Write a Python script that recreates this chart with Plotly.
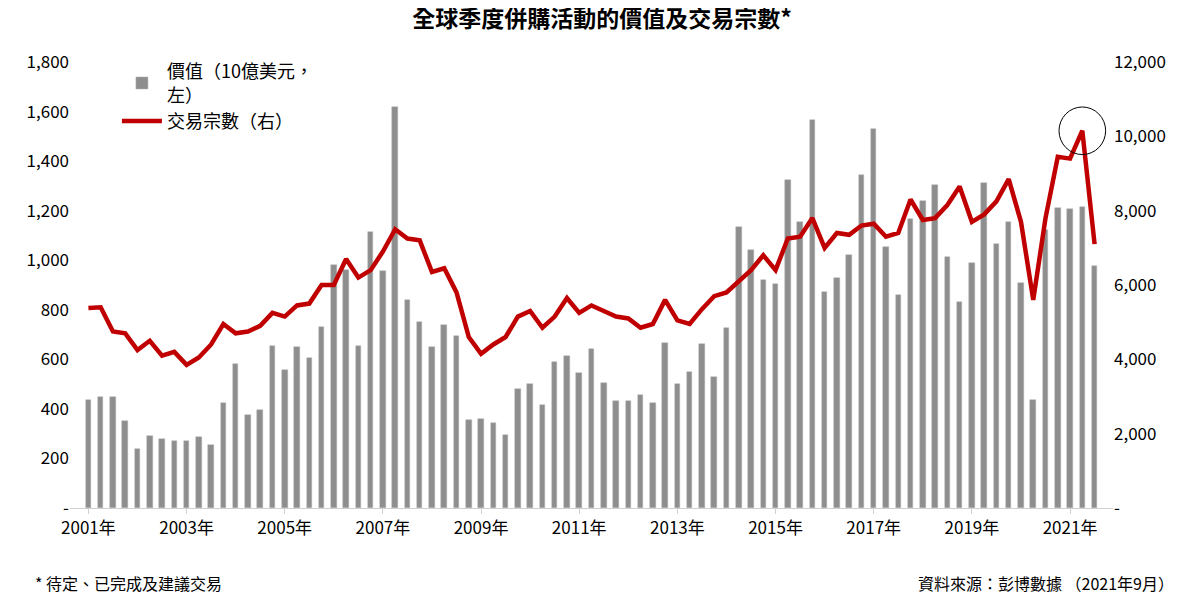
import plotly.graph_objects as go

years = list(range(2001, 2022))
quarters = [f"{y}Q{q}" for y in years for q in range(1, 5)][:83]

deal_value = [435, 450, 450, 350, 240, 290, 280, 270, 270, 285, 255, 425,
              580, 375, 395, 655, 555, 650, 605, 730, 980, 960, 655, 1115,
              955, 1620, 840, 750, 650, 740, 695, 355, 360, 345, 295, 480,
              500, 415, 590, 615, 545, 640, 505, 430, 430, 455, 425, 665,
              500, 550, 660, 530, 725, 1135, 1040, 920, 905, 1325, 1155, 1565,
              870, 930, 1020, 1345, 1530, 1055, 860, 1165, 1240, 1305, 1015, 830,
              990, 1310, 1065, 1155, 910, 435, 1120, 1210, 1205, 1215, 975]
deal_count = [5380, 5400, 4750, 4700, 4250, 4500, 4100, 4200, 3850, 4050, 4400, 4950,
              4700, 4750, 4900, 5250, 5150, 5450, 5500, 6000, 6000, 6700, 6200, 6400,
              6900, 7500, 7250, 7200, 6350, 6450, 5800, 4600, 4150, 4400, 4600, 5150,
              5300, 4850, 5150, 5650, 5250, 5450, 5300, 5150, 5100, 4850, 4950, 5600,
              5050, 4950, 5350, 5700, 5800, 6100, 6400, 6800, 6400, 7250, 7300, 7800,
              7000, 7400, 7350, 7600, 7650, 7300, 7400, 8300, 7750, 7800, 8150, 8650,
              7700, 7900, 8250, 8850, 7700, 5600, 7800, 9450, 9400, 10150, 7100]
left_ticks = [0, 200, 400, 600, 800, 1000, 1200, 1400, 1600, 1800]
right_ticks = [0, 2000, 4000, 6000, 8000, 10000, 12000]
x_tick_labels = [f"{y}年" for y in range(2001, 2022, 2)]

xs = list(range(len(quarters)))
font = "Noto Sans CJK TC, Arial, sans-serif"

fig = go.Figure()
fig.add_trace(go.Bar(x=xs, y=deal_value, width=0.45, name="價值（10億美元，<br>左）",
                     marker=dict(color="#8e8e8e", line=dict(color="#b0b0b0", width=0.5))))
fig.add_trace(go.Scatter(x=xs, y=deal_count, yaxis="y2", mode="lines", name="交易宗數（右）",
                         line=dict(color="#c00000", width=4.5)))

pk = deal_count.index(max(deal_count))
fig.add_shape(type="circle", xref="x", yref="y2", x0=pk - 1.9, x1=pk + 1.9,
              y0=deal_count[pk] - 640, y1=deal_count[pk] + 640,
              line=dict(color="black", width=1))

fig.update_layout(
    width=1188, height=596, margin=dict(l=62, r=83, t=54, b=96),
    plot_bgcolor="white", paper_bgcolor="white",
    font=dict(family=font, size=17, color="black"),
    title=dict(text="<b>全球季度併購活動的價值及交易宗數*</b>", x=0.5, xanchor="center",
               yref="container", y=0.995, yanchor="top", font=dict(size=23)),
    showlegend=True,
    legend=dict(x=0.045, y=1.02, xanchor="left", yanchor="top", bgcolor="rgba(0,0,0,0)",
                font=dict(size=18), tracegroupgap=0, itemwidth=40),
    bargap=0,
    xaxis=dict(range=[-1.5, 83.5], tickmode="array", tickvals=[i * 8 for i in range(11)],
               ticktext=x_tick_labels, showline=True, linecolor="#d0d0d0", ticks="outside",
               tickcolor="#d0d0d0", ticklen=5, showgrid=False, tickfont=dict(size=17)),
    yaxis=dict(range=[0, 1800], tickmode="array", tickvals=left_ticks,
               ticktext=["-"] + [f"{v:,}" for v in left_ticks[1:]], showgrid=False,
               zeroline=False, tickfont=dict(size=17)),
    yaxis2=dict(range=[0, 12000], overlaying="y", side="right", tickmode="array",
                tickvals=right_ticks, ticktext=["-"] + [f"{v:,}" for v in right_ticks[1:]],
                showgrid=False, zeroline=False, tickfont=dict(size=17)),
)
fig.add_annotation(text="* 待定、已完成及建議交易", xref="paper", yref="paper", x=-0.035, y=-0.168,
                   xanchor="left", yanchor="middle", showarrow=False, font=dict(size=16))
fig.add_annotation(text="資料來源：彭博數據 （2021年9月）", xref="paper", yref="paper", x=1.06, y=-0.168,
                   xanchor="right", yanchor="middle", showarrow=False, font=dict(size=16))
fig.write_html("out.html")
